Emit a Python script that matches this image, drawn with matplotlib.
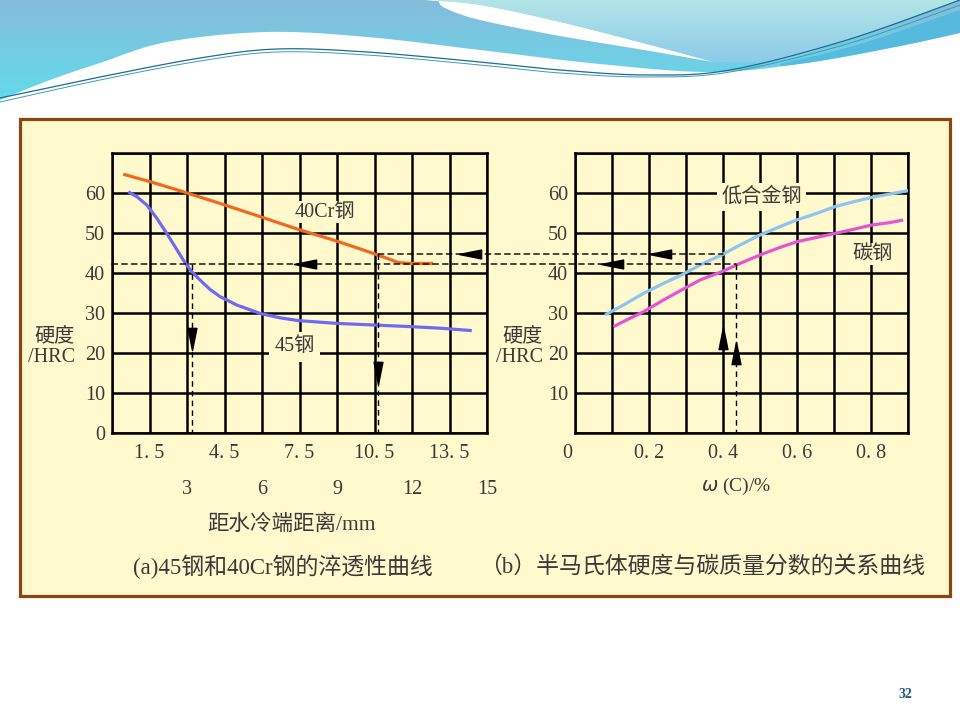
import numpy as np
import matplotlib.pyplot as plt
from matplotlib.patches import Rectangle, Polygon, ConnectionPatch
from matplotlib.path import Path

plt.rcParams['font.family'] = ['Liberation Serif', 'Noto Sans CJK SC']

# (a) hardenability curves: distance from quenched end (mm) vs HRC
dist_40cr = [0.45, 1.65, 2.85, 4.32, 5.92, 7.45, 8.85, 9.65, 10.45, 10.99, 11.45, 11.92, 12.85]
hrc_40cr = [64.7, 62.6, 60.3, 57.4, 54.1, 50.9, 48.25, 46.6, 44.9, 43.7, 42.6, 42.4, 42.4]
dist_45 = [0.65, 0.99, 1.39, 1.79, 2.19, 2.52, 2.85, 3.19, 3.52, 3.92, 4.32, 4.99,
           5.92, 6.72, 7.45, 8.99, 10.45, 11.92, 13.12, 14.39]
hrc_45 = [60.3, 59.1, 57.0, 53.7, 49.9, 46.6, 43.25, 40.3, 38.25, 35.9, 34.1, 32.0,
          29.9, 28.8, 28.1, 27.4, 27.0, 26.6, 26.2, 25.6]

# (b) half-martensite hardness vs carbon content
carbon_alloy = [0.081, 0.131, 0.185, 0.239, 0.288, 0.338, 0.396, 0.446, 0.5, 0.554,
                0.599, 0.653, 0.703, 0.752, 0.802, 0.851, 0.901]
hrc_alloy = [29.5, 32.0, 34.9, 37.4, 39.5, 42.0, 44.5, 47.0, 49.5, 51.6,
             53.25, 54.9, 56.6, 57.8, 58.9, 59.75, 60.6]
carbon_plain = [0.104, 0.149, 0.185, 0.239, 0.288, 0.338, 0.396, 0.446, 0.5, 0.554,
                0.599, 0.653, 0.703, 0.752, 0.802, 0.851, 0.887]
hrc_plain = [26.6, 28.7, 30.3, 33.25, 35.75, 38.25, 40.3, 42.4, 44.5, 46.4,
             47.8, 48.9, 49.9, 50.9, 52.0, 52.6, 53.25]

# reading lines
hrc_45_read = 42.25
hrc_40cr_read = 44.75
dist_45_read = 3.2
dist_40cr_read = 10.65
carbon_45 = 0.435
carbon_40cr = 0.4

left_xlabels = ['1. 5', '4. 5', '7. 5', '10. 5', '13. 5']
left_xlabel_pos = [1.5, 4.5, 7.5, 10.5, 13.5]
left_xlabels2 = ['3', '6', '9', '12', '15']
left_xlabel2_pos = [3, 6, 9, 12, 15]
right_xlabels = ['0', '0. 2', '0. 4', '0. 6', '0. 8']
right_xlabel_pos = [-0.02, 0.2, 0.4, 0.6, 0.8]

box_color = '#FFF9CD'
text_color = '#3a3a3a'


def curve(pts, n=20):
    # smooth curve through points (decoration only)
    pts = np.asarray(pts, float)
    p = np.vstack([pts[0], pts, pts[-1]])
    t = np.linspace(0, 1, n)[:, None]
    out = []
    for i in range(1, len(p) - 2):
        p0, p1, p2, p3 = p[i - 1], p[i], p[i + 1], p[i + 2]
        out.append(0.5 * (2 * p1 + (-p0 + p2) * t + (2 * p0 - 5 * p1 + 4 * p2 - p3) * t ** 2
                          + (-p0 + 3 * p1 - 3 * p2 + p3) * t ** 3))
    return np.vstack(out)


def gradient_fill(ax, verts, c_top, c_bot, y0, y1):
    poly = Polygon(verts, closed=True, facecolor='none', edgecolor='none')
    ax.add_patch(poly)
    a = np.array(plt.matplotlib.colors.to_rgb(c_top))
    b = np.array(plt.matplotlib.colors.to_rgb(c_bot))
    g = np.linspace(0, 1, 100)[:, None, None]
    img = a * (1 - g) + b * g
    img = np.repeat(img, 2, axis=1)
    im = ax.imshow(img, extent=[0, 960, y1, y0], aspect='auto', zorder=1)
    im.set_clip_path(poly)


fig = plt.figure(figsize=(9.6, 7.2), dpi=100)
fig.patch.set_facecolor('white')

# slide background
bg = fig.add_axes([0, 0, 1, 1], zorder=0)
bg.set_xlim(0, 960)
bg.set_ylim(720, 0)
bg.axis('off')

white_top = curve([(0, 100), (50, 80), (100, 63), (167, 42), (267, 32), (367, 37), (480, 50),
                   (600, 64), (713, 72), (813, 62), (900, 46), (960, 33)])
gradient_fill(bg, np.vstack([[[0, 0], [960, 0]], white_top[::-1]]), '#86BCDC', '#62DBEA', 0, 100)
swoosh_up = curve([(425, 0), (480, 5), (560, 22), (650, 45), (713, 62)])
light = np.vstack([swoosh_up, curve([(713, 62), (780, 60), (847, 40), (910, 18), (960, 0)])])
gradient_fill(bg, light, '#B2E5E6', '#8CC9EA', 0, 65)
streak = np.vstack([curve([(780, 64), (860, 44), (960, 10)]),
                    curve([(960, 33), (900, 46), (813, 62), (780, 66)])])
bg.add_patch(Polygon(streak, closed=True, facecolor='#4DB8DE', edgecolor='none', alpha=0.8, zorder=2))
swoosh = np.vstack([swoosh_up, curve([(713, 62), (650, 51), (560, 36), (480, 20), (445, 8), (438, 0)])])
bg.add_patch(Polygon(swoosh, closed=True, facecolor='white', edgecolor='none', zorder=2))
l1 = curve([(0, 98), (100, 77), (200, 58), (277, 49), (367, 52), (480, 62), (560, 70),
            (647, 75), (730, 70), (847, 40), (960, 0)])
l2 = curve([(0, 102), (100, 80), (200, 61), (277, 52), (367, 55), (480, 65), (560, 73),
            (647, 77), (730, 72), (847, 44), (960, 5)])
bg.plot(l1[:, 0], l1[:, 1], color='#1D6C96', lw=0.9, zorder=3)
bg.plot(l2[:, 0], l2[:, 1], color='#3C9DB2', lw=0.7, zorder=3)

bg.add_patch(Rectangle((20, 119), 930, 477, facecolor=box_color, edgecolor='#8B4513', lw=2.3, zorder=4))

# arrowhead markers
arr_left = Path([(-1, 0), (1, 0.4), (1, -0.4), (-1, 0)], [1, 2, 2, 79])
arr_down = Path([(0, -1), (0.4, 1), (-0.4, 1), (0, -1)], [1, 2, 2, 79])
arr_up = Path([(0, 1), (0.4, -1), (-0.4, -1), (0, 1)], [1, 2, 2, 79])

ax1 = fig.add_axes([112 / 960, 1 - 433 / 720, 375 / 960, 280 / 720], zorder=2)
ax2 = fig.add_axes([575 / 960, 1 - 433 / 720, 333 / 960, 280 / 720], zorder=2)

for ax in (ax1, ax2):
    ax.set_facecolor('none')
    ax.set_ylim(0, 70)
    ax.set_yticks(np.arange(0, 71, 10))
    ax.grid(True, color='black', lw=1.8)
    for s in ax.spines.values():
        s.set_linewidth(1.8)
    ax.tick_params(length=0, labelsize=14.5, labelcolor=text_color, pad=5)

ax1.set_xlim(0, 15)
ax1.set_xticks(np.arange(0, 15.1, 1.5))
ax1.set_xticklabels([])
ax1.set_yticklabels(['0', '10', '20', '30', '40', '50', '60', ''])
ax2.set_xlim(0, 0.9)
ax2.set_xticks(np.arange(0, 0.91, 0.1))
ax2.set_xticklabels([])
ax2.set_yticklabels(['', '10', '20', '30', '40', '50', '60', ''])

# curves
ax1.plot(dist_40cr, hrc_40cr, color='#F0691E', lw=2.3, zorder=3, solid_capstyle='butt')
ax1.plot(dist_45, hrc_45, color='#6F6BF0', lw=2.3, zorder=3, solid_capstyle='butt')
ax2.plot(carbon_alloy, hrc_alloy, color='#8EC4F2', lw=2.3, zorder=3, solid_capstyle='butt')
ax2.plot(carbon_plain, hrc_plain, color='#E654D6', lw=2.3, zorder=3, solid_capstyle='butt')

# dashed reading lines
dash = dict(color='black', lw=1.0, linestyle=(0, (4, 3)), zorder=4)
fig.add_artist(ConnectionPatch((0, hrc_45_read), (carbon_45, hrc_45_read), 'data', 'data',
                               axesA=ax1, axesB=ax2, **dash))
fig.add_artist(ConnectionPatch((dist_40cr_read, hrc_40cr_read), (carbon_40cr, hrc_40cr_read), 'data', 'data',
                               axesA=ax1, axesB=ax2, **dash))
ax1.plot([dist_45_read, dist_45_read], [hrc_45_read, 0], **dash)
ax1.plot([dist_40cr_read, dist_40cr_read], [hrc_40cr_read, 0], **dash)
ax2.plot([carbon_45, carbon_45], [hrc_45_read, 0], **dash)

mk = dict(color='black', markersize=16, linestyle='none', zorder=6, clip_on=False)
ax1.plot([7.7], [hrc_45_read], marker=arr_left, **mk)
ax1.plot([14.3], [hrc_40cr_read], marker=arr_left, **mk)
ax1.plot([dist_45_read], [23.6], marker=arr_down, **mk)
ax1.plot([dist_40cr_read], [15.0], marker=arr_down, **mk)
ax2.plot([0.10], [hrc_45_read], marker=arr_left, **mk)
ax2.plot([0.23], [hrc_40cr_read], marker=arr_left, **mk)
ax2.plot([carbon_40cr], [23.8], marker=arr_up, **mk)
ax2.plot([carbon_45], [20.0], marker=arr_up, **mk)

# curve labels
ax1.text(8.5, 55.2, '40Cr钢', fontsize=14.5, color=text_color, ha='center', va='center', zorder=5,
         bbox=dict(facecolor=box_color, edgecolor='none', pad=1))
ax1.text(7.3, 21.5, '45钢', fontsize=14.5, color=text_color, ha='center', va='center', zorder=5,
         bbox=dict(facecolor=box_color, edgecolor='none', pad=4))
ax2.text(0.505, 59.0, '低合金钢', fontsize=14.5, color=text_color, ha='center', va='center', zorder=5,
         bbox=dict(facecolor=box_color, edgecolor='none', pad=3))
ax2.text(0.805, 44.7, '碳钢', fontsize=14.5, color=text_color, ha='center', va='center', zorder=5,
         bbox=dict(facecolor=box_color, edgecolor='none', pad=1))

# x tick labels
for x, s in zip(left_xlabel_pos, left_xlabels):
    ax1.text(x, -20 / 280, s, transform=ax1.get_xaxis_transform(), fontsize=14.5,
             color=text_color, ha='center', va='center')
for x, s in zip(left_xlabel2_pos, left_xlabels2):
    ax1.text(x, -57 / 280, s, transform=ax1.get_xaxis_transform(), fontsize=14.5,
             color=text_color, ha='center', va='center')
for x, s in zip(right_xlabel_pos, right_xlabels):
    ax2.text(x, -20 / 280, s, transform=ax2.get_xaxis_transform(), fontsize=14.5,
             color=text_color, ha='center', va='center')

ax1.text(0.48, -92 / 280, '距水冷端距离/mm', transform=ax1.transAxes, fontsize=15.5,
         color=text_color, ha='center', va='center')
ax2.text(0.485, -53 / 280, r'$\omega$ (C)/%', transform=ax2.transAxes, fontsize=14,
         color=text_color, ha='center', va='center')

fig.text(75 / 960, 1 - 347 / 720, '硬度\n/HRC', fontsize=14.5, color=text_color,
         ha='right', va='center', linespacing=1.1)
fig.text(543 / 960, 1 - 347 / 720, '硬度\n/HRC', fontsize=14.5, color=text_color,
         ha='right', va='center', linespacing=1.1)

fig.text(283 / 960, 1 - 567 / 720, '(a)45钢和40Cr钢的淬透性曲线', fontsize=16.5,
         color=text_color, ha='center', va='center')
fig.text(702 / 960, 1 - 567 / 720, '（b）半马氏体硬度与碳质量分数的关系曲线', fontsize=16.5,
         color=text_color, ha='center', va='center')

fig.text(905 / 960, 1 - 695 / 720, '32', fontsize=10, fontweight='bold', color='#1F5C7A',
         ha='center', va='center')

plt.savefig('out.png', dpi=100)
